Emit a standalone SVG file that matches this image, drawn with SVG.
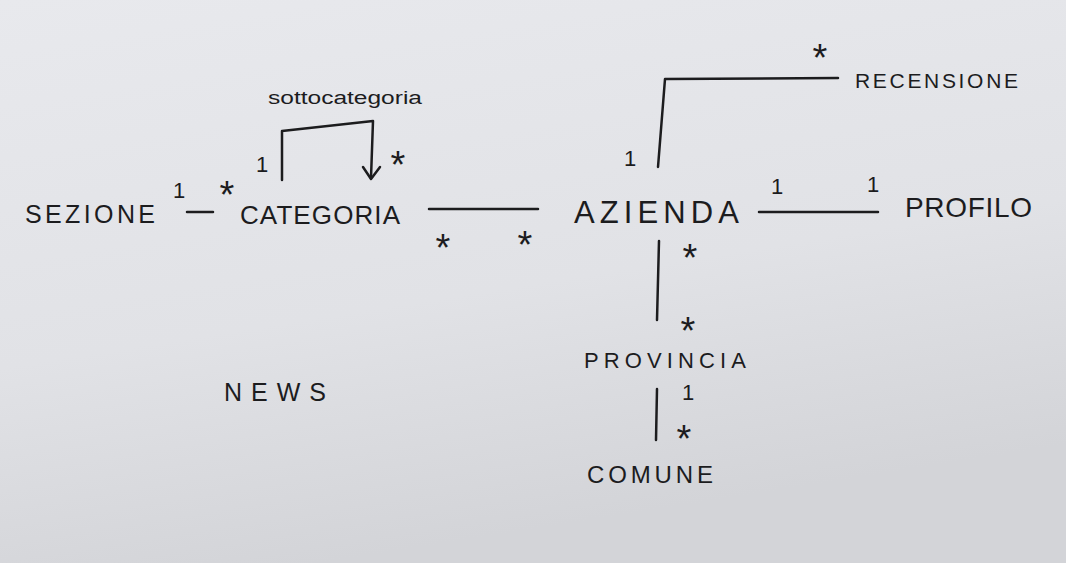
<svg xmlns="http://www.w3.org/2000/svg" width="1066" height="563" viewBox="0 0 1066 563">
<defs>
<linearGradient id="bg" x1="0" y1="0" x2="0.3" y2="1">
<stop offset="0" stop-color="#e8e9ed"/>
<stop offset="0.6" stop-color="#e1e2e6"/>
<stop offset="1" stop-color="#d3d4d8"/>
</linearGradient>
<style>
.n{font-family:"Liberation Sans","DejaVu Sans",sans-serif;fill:#1c1c1e;}
.m{font-family:"Liberation Sans","DejaVu Sans",sans-serif;fill:#1c1c1e;font-size:22px;text-anchor:middle;}
.s{font-family:"Liberation Sans","DejaVu Sans",sans-serif;fill:#1c1c1e;font-size:38px;text-anchor:middle;}
.c{fill:none;stroke:#1c1c1e;stroke-width:2.5;stroke-linecap:round;stroke-linejoin:round;}
</style>
</defs>
<rect width="1066" height="563" fill="url(#bg)"/>
<g id="connectors">
<path class="c" d="M187 212 L213 212"/>
<path class="c" d="M282 180 L282 131 L373 121 L371 178"/>
<path class="c" d="M363 167 L371 179 L380 167"/>
<path class="c" d="M429 209 L538 209"/>
<path class="c" d="M759 212 L878 212"/>
<path class="c" d="M658 167 L665 79 L838 78"/>
<path class="c" d="M659 241 L657 320"/>
<path class="c" d="M657 389 L656 440"/>
</g>
<g id="labels">
<text class="m" x="179" y="198">1</text>
<text class="s" x="227" y="208">*</text>
<text class="m" x="262" y="172">1</text>
<text class="s" x="398" y="178">*</text>
<text x="268" y="104" class="n" font-size="18" textLength="154" lengthAdjust="spacingAndGlyphs">sottocategoria</text>
<text class="s" x="443" y="261">*</text>
<text class="s" x="525" y="258">*</text>
<text class="m" x="630" y="166">1</text>
<text class="s" x="820" y="71">*</text>
<text class="m" x="777" y="194">1</text>
<text class="m" x="873" y="192">1</text>
<text class="s" x="690" y="271">*</text>
<text class="s" x="688" y="344">*</text>
<text class="m" x="688" y="400">1</text>
<text class="s" x="684" y="452" font-size="32">*</text>
</g>
<g id="sezione"><text class="n" x="25" y="223" font-size="25" textLength="130" lengthAdjust="spacing">SEZIONE</text></g>
<g id="categoria"><text class="n" x="240" y="224" font-size="26" textLength="160" lengthAdjust="spacing">CATEGORIA</text></g>
<g id="azienda"><text class="n" x="574" y="223" font-size="31" textLength="165" lengthAdjust="spacing">AZIENDA</text></g>
<g id="profilo"><text class="n" x="905" y="217" font-size="28" textLength="127" lengthAdjust="spacing">PROFILO</text></g>
<g id="recensione"><text class="n" x="855" y="88" font-size="21" textLength="163" lengthAdjust="spacing">RECENSIONE</text></g>
<g id="provincia"><text class="n" x="584" y="368" font-size="22" textLength="162" lengthAdjust="spacing">PROVINCIA</text></g>
<g id="comune"><text class="n" x="587" y="483" font-size="24" textLength="126" lengthAdjust="spacing">COMUNE</text></g>
<g id="news"><text class="n" x="224" y="401" font-size="25" textLength="102" lengthAdjust="spacing">NEWS</text></g>
</svg>
